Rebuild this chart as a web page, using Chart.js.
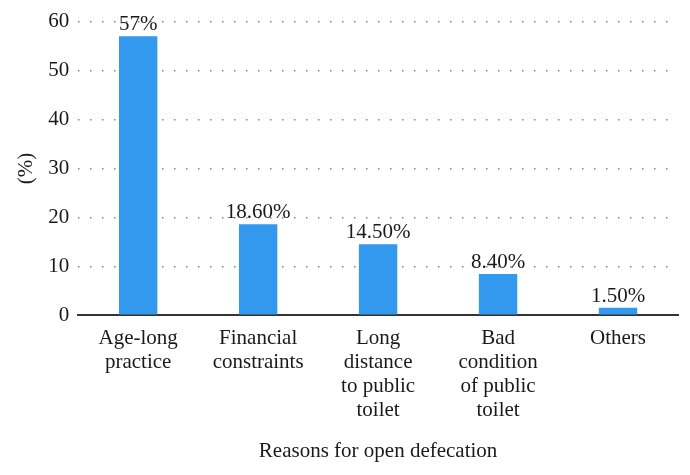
<!DOCTYPE html>
<html>
<head>
<meta charset="utf-8">
<script src="https://cdn.jsdelivr.net/npm/chart.js@4"></script>
<style>
  html, body { margin: 0; padding: 0; background: #fff; }
  #wrap { width: 690px; height: 475px; }
</style>
</head>
<body>
<div id="wrap"><canvas id="reasonChart"></canvas></div>
<script>
// Categorieen (meerdere regels per label)
var categories = [
    ["Age-long", "practice"],
    ["Financial", "constraints"],
    ["Long", "distance", "to public", "toilet"],
    ["Bad", "condition", "of public", "toilet"],
    ["Others"]
];
// Percentages per reden
var percentages = [57, 18.6, 14.5, 8.4, 1.5];
// Tekst boven de staven
var barLabels = ["57%", "18.60%", "14.50%", "8.40%", "1.50%"];
// Y-as verdeling
var yTicks = [0, 10, 20, 30, 40, 50, 60];

var serif = "'Liberation Serif', 'DejaVu Serif', serif";

// Kleine plugin voor de waarden boven de staven
var valueLabels = {
    id: "valueLabels",
    afterDatasetsDraw: function (chart) {
        var ctx = chart.ctx;
        var meta = chart.getDatasetMeta(0);
        ctx.save();
        ctx.font = "21px " + serif;
        ctx.fillStyle = "#1a1a1a";
        ctx.textAlign = "center";
        ctx.textBaseline = "bottom";
        meta.data.forEach(function (bar, i) {
            ctx.fillText(barLabels[i], bar.x, bar.y - 1);
        });
        ctx.restore();
    }
};

window.onload = function () {
    var ctx = document.getElementById("reasonChart").getContext("2d");
    var myChart = new Chart(ctx, {
        type: "bar",
        data: {
            labels: categories,
            datasets: [{
                data: percentages,
                backgroundColor: "#3399ee",
                borderWidth: 0,
                barPercentage: 0.32,
                categoryPercentage: 1
            }]
        },
        options: {
            responsive: true,
            maintainAspectRatio: false,
            animation: false,
            layout: { padding: { top: 12, right: 12, left: 14, bottom: 11 } },
            plugins: {
                legend: { display: false },
                tooltip: { enabled: false }
            },
            scales: {
                x: {
                    grid: { display: false, drawTicks: false },
                    border: { display: true, color: "#333", width: 2 },
                    ticks: {
                        color: "#1a1a1a",
                        font: { family: serif, size: 21, lineHeight: 1.15 },
                        padding: 11,
                        maxRotation: 0,
                        autoSkip: false
                    },
                    title: {
                        display: true,
                        text: "Reasons for open defecation",
                        color: "#1a1a1a",
                        font: { family: serif, size: 21 },
                        padding: { top: 5, bottom: 0 }
                    }
                },
                y: {
                    min: 0,
                    max: 60,
                    afterBuildTicks: function (axis) {
                        axis.ticks = yTicks.map(function (v) { return { value: v }; });
                    },
                    grid: {
                        drawTicks: false,
                        color: "#888",
                        lineWidth: 1.5
                    },
                    border: { display: false, dash: [1.5, 10.5] },
                    ticks: {
                        color: "#1a1a1a",
                        font: { family: serif, size: 21 },
                        padding: 9
                    },
                    title: {
                        display: true,
                        text: "(%)",
                        color: "#1a1a1a",
                        font: { family: serif, size: 21 },
                        padding: { top: 0, bottom: 0 }
                    }
                }
            }
        },
        plugins: [valueLabels]
    });
};
</script>
</body>
</html>
